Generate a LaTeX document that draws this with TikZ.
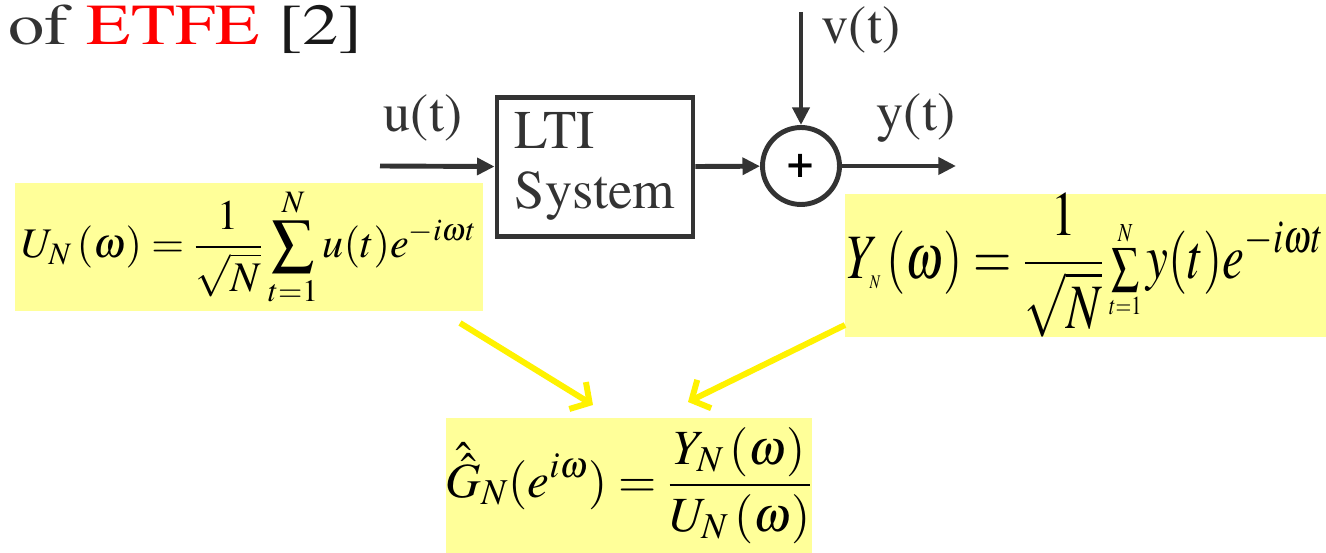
\documentclass[tikz,border=0pt]{standalone}
\usepackage[T1]{fontenc}
\usepackage{mathptmx}
\usetikzlibrary{arrows.meta}

\definecolor{note}{RGB}{255,255,153}
\definecolor{darkline}{RGB}{51,51,51}
\definecolor{etfered}{RGB}{255,0,0}

\begin{document}
\begin{tikzpicture}[x=0.02cm,y=-0.02cm,
    sig/.style={line width=2.8pt, draw=darkline, -{Triangle[length=10pt,width=9.5pt]}},
    yarrow/.style={line width=3.4pt, draw=yellow, -{Straight Barb[length=8pt,width=18pt]}},
    lbl/.style={font=\fontsize{31}{33}\selectfont, text=darkline, inner sep=0pt},
    eqbox/.style={fill=note, inner sep=0pt}]
    \useasboundingbox (0,0) rectangle (1326,553);

    % title
    \node[anchor=base west, inner sep=0pt, font=\fontsize{33}{35}\selectfont] (title) at (8,45)
        {\scalebox{1.25}[1]{\textcolor{darkline}{of} \textcolor{etfered}{ETFE} \textcolor{black!90}{[2]}}};

    % block diagram
    \node[draw=darkline, line width=2.8pt, minimum width=3.92cm, minimum height=2.78cm,
          align=left, font=\fontsize{31}{34}\selectfont, text=darkline] (sys) at (595,167) {LTI\\System};
    \node[draw=darkline, line width=2.8pt, circle, minimum size=1.54cm, inner sep=0pt,
          font=\fontsize{26}{26}\selectfont] (sum) at (801,166) {\textbf{+}};
    \coordinate (uin) at (380,166);
    \coordinate (vin) at (801,12);
    \coordinate (yout) at (956,166);
    \draw[sig] (uin) -- (sys);
    \draw[sig] (sys) -- (sum);
    \draw[sig] (vin) -- (sum);
    \draw[sig] (sum) -- (yout);
    \node[lbl] (ulbl) at (423,118) {u(t)};
    \node[lbl] (vlbl) at (861,30) {v(t)};
    \node[lbl] (ylbl) at (916,118) {y(t)};

    % formulas
    \node[eqbox, minimum width=9.36cm, minimum height=2.56cm, font=\fontsize{24}{26}\selectfont] (uform) at (249,247)
        {$\displaystyle U_{N}\,(\omega)=\frac{1}{\sqrt{N}}\sum_{t=1}^{N}u(t)e^{-i\omega t}$};
    \node[eqbox, minimum width=9.62cm, minimum height=2.7cm, font=\fontsize{36}{38}\selectfont] (yform) at (1085.5,265.5)
        {\scalebox{0.78}[1]{$\displaystyle Y_{\mbox{\fontsize{11}{11}\selectfont$N$}}\,(\omega)=\frac{1}{\sqrt{N}}\,
         \mbox{\fontsize{20}{20}\selectfont$\displaystyle\sum_{t=1}^{N}$}\,y(t)e^{-i\omega t}$}};
    \node[eqbox, minimum width=7.16cm, minimum height=2.7cm, font=\fontsize{28}{30}\selectfont] (gform) at (629,485.5)
        {$\displaystyle \hat{\hat{G}}_{N}(e^{i\omega})=\frac{Y_{N}\,(\omega)}{U_{N}\,(\omega)}$};

    \coordinate (ustart) at (460,323);
    \coordinate (ystart) at (845,325);
    \coordinate (gtipl) at (593,405);
    \coordinate (gtipr) at (688,402);
    \draw[yarrow] (ustart) -- (gtipl);
    \draw[yarrow] (ystart) -- (gtipr);
\end{tikzpicture}
\end{document}
